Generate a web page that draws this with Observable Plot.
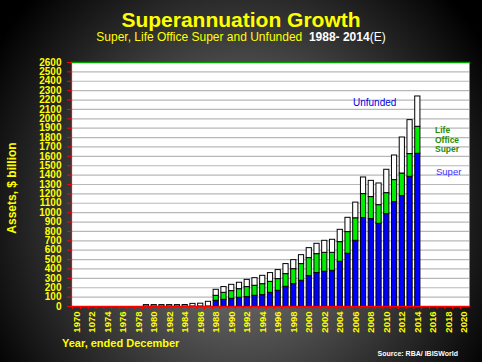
<!DOCTYPE html>
<html><head><meta charset="utf-8">
<script src="https://cdn.jsdelivr.net/npm/d3@7"></script>
<script src="https://cdn.jsdelivr.net/npm/@observablehq/plot@0.6"></script>
<style>
html,body{margin:0;padding:0;width:482px;height:362px;overflow:hidden;}
body{position:relative;background:radial-gradient(ellipse 60% 85% at 50% 58%, #8a8a8a 0%, #000 100%);font-family:"Liberation Sans",Arial,sans-serif;}
#chart{position:absolute;left:0;top:0;}
.t{position:absolute;white-space:nowrap;line-height:1;}
</style></head><body>
<div id="chart"></div>
<div class="t" style="left:0;width:482px;top:9px;text-align:center;font-size:21px;font-weight:bold;color:#ffff00;">Superannuation Growth</div>
<div class="t" style="left:0;width:482px;top:31px;text-align:center;font-size:12px;color:#ffff00;">Super, Life Office Super and Unfunded&nbsp; <b style="color:#fff">1988- 2014</b><span style="color:#fff">(E)</span></div>
<div class="t" style="left:12px;top:188px;transform:translate(-50%,-50%) rotate(-90deg);font-size:12px;font-weight:bold;color:#ffff00;">Assets, $ billion</div>
<div class="t" style="left:62px;top:338px;font-size:11px;font-weight:bold;color:#ffff00;">Year, ended December</div>
<div class="t" style="right:24px;top:350px;font-size:7px;font-weight:bold;color:#fff;">Source: RBA/ IBISWorld</div>
<div class="t" style="left:353px;top:98px;font-size:10px;color:#0000dd;">Unfunded</div>
<div class="t" style="left:435px;top:126px;font-size:8.5px;font-weight:bold;color:#2c8c00;line-height:9.6px;">Life<br>Office<br>Super</div>
<div class="t" style="left:436px;top:167px;font-size:9.5px;color:#3333ff;">Super</div>
<script>
// categories
const years = d3.range(1970, 2021);
const tickYears = [1970,1972,1974,1976,1978,1980,1982,1984,1986,1988,1990,1992,1994,1996,1998,2000,2002,2004,2006,2008,2010,2012,2014,2016,2018,2020];
const tickLabels = ["1970","1072","1974","1976","1978","1980","1982","1984","1986","1988","1990","1992","1994","1996","1998","2000","2002","2004","2006","2008","2010","2012","2014","2016","2018","2020"];
const yTicks = [0,100,200,300,400,500,600,700,800,900,1000,1100,1200,1300,1400,1500,1600,1700,1800,1900,2000,2100,2200,2300,2400,2500,2600];

// data ($ billion)
const barYears = [1979,1980,1981,1982,1983,1984,1985,1986,1987,1988,1989,1990,1991,1992,1993,1994,1995,1996,1997,1998,1999,2000,2001,2002,2003,2004,2005,2006,2007,2008,2009,2010,2011,2012,2013,2014];
const superVals = [0,0,0,0,0,0,0,0,0,61,71,82,93,100,114,121,146,167,210,238,274,324,356,370,380,476,562,700,942,931,881,984,1112,1176,1382,1627];
const lifeVals = [0,0,0,0,0,0,0,0,0,53,75,82,92,107,107,117,117,125,135,160,178,192,202,202,192,210,231,240,256,235,199,224,235,241,242,288];
const unfundedVals = [15,15,15,15,15,16,28,30,50,64,61,67,68,77,81,89,93,96,107,96,95,106,110,128,139,131,152,167,177,173,231,249,262,384,362,323];

const seriesNames = ["Super","Life Office Super","Unfunded"];
const seriesColors = ["#0000ff","#00ee00","#ffffff"];

const rows = [];
barYears.forEach((yr, i) => {
  [superVals[i], lifeVals[i], unfundedVals[i]].forEach((v, j) => {
    if (v > 0) rows.push({year: yr, series: seriesNames[j], value: v});
  });
});

const W = 482, H = 362, mL = 71, mR = 13;
const step = (W - mL - mR) / years.length;

const chart = Plot.plot({
  width: W, height: H,
  marginLeft: mL, marginRight: mR, marginTop: 62, marginBottom: 56,
  style: {background: "transparent", fontFamily: "Liberation Sans, Arial, sans-serif", overflow: "visible"},
  x: {type: "band", domain: years, padding: 0.33, label: null},
  y: {domain: [0, 2600], label: null},
  color: {domain: seriesNames, range: seriesColors},
  marks: [
    Plot.frame({fill: "white", stroke: "none"}),
    Plot.gridY({ticks: yTicks, stroke: "#b8b8b8", strokeOpacity: 1, strokeWidth: 1.2}),
    Plot.barY(rows, {x: "year", y: "value", fill: "series", order: seriesNames, stroke: "black", strokeWidth: 1}),
    Plot.frame({anchor: "left", stroke: "red", strokeWidth: 1.2}),
    Plot.frame({anchor: "bottom", stroke: "red", strokeWidth: 1.5}),
    Plot.frame({anchor: "top", stroke: "#00a000", strokeWidth: 1.5}),
    Plot.axisY({ticks: yTicks, tickSize: 4, stroke: "red", fill: "none", label: null}),
    Plot.axisY({ticks: yTicks, tickSize: 0, tickPadding: 10, fill: "#ffff00", fontWeight: "bold", fontSize: 10, label: null,
      tickFormat: d => String(d)}),
    Plot.axisX({ticks: years, tickSize: 3, stroke: "red", fill: "none", dx: -step / 2, label: null}),
    Plot.axisX({ticks: tickYears, tickSize: 0, tickPadding: 5, tickRotate: -90, fill: "#ffff00", fontWeight: "bold", fontSize: 9.5, label: null,
      tickFormat: d => tickLabels[tickYears.indexOf(d)]})
  ]
});
document.getElementById("chart").appendChild(chart);
</script>
</body></html>
